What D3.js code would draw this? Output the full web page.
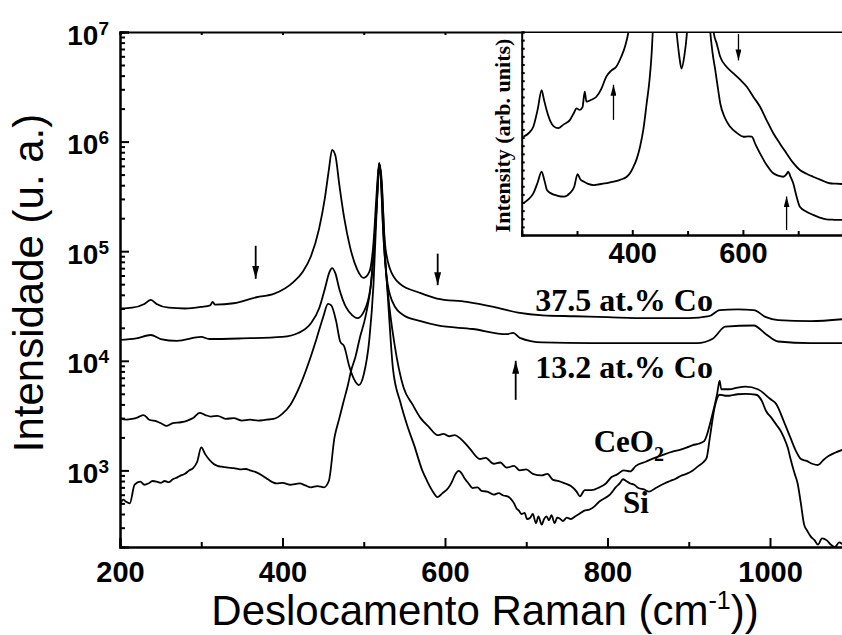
<!DOCTYPE html>
<html>
<head>
<meta charset="utf-8">
<script src="https://cdn.jsdelivr.net/npm/d3@7"></script>
<style>
  body { margin: 0; background: #fff; }
  .curve { fill: none; stroke: #000; stroke-width: 1.8; stroke-linejoin: round; }
  .axis path, .axis line { stroke: #000; stroke-width: 2; }
  .tick text { font-family: "Liberation Sans", Arial, sans-serif; font-weight: bold; fill: #000; }
  .lbl { font-family: "Liberation Serif", "Times New Roman", serif; font-weight: bold; fill: #000; }
</style>
</head>
<body>
<div id="chart"></div>
<script>

// spectra: [Raman shift (cm-1), intensity (a.u.)]
var co375 = [[200,3.0e4],[215,3.05e4],[230,3.3e4],[238,3.6e4],[245,3.3e4],[260,3.05e4],[280,3.0e4],[300,3.1e4],
  [311,3.2e4],[314,3.45e4],[317,3.25e4],[340,3.35e4],[368,3.8e4],[390,4.1e4],[413,5.2e4],[425,6.5e4],[435,9.0e4],
  [445,1.6e5],[452,3.0e5],[457,5.5e5],[461,8.4e5],[465,7.5e5],[470,4.0e5],[476,2.0e5],[483,1.1e5],[492,6.8e4],
  [500,5.7e4],[507,6.5e4],[512,1.2e5],[516,3.5e5],[519,6.4e5],[522,4.0e5],[526,1.2e5],[532,7.0e4],[545,5.0e4],
  [568,4.2e4],[590,3.7e4],[627,3.45e4],[660,3.1e4],[690,2.75e4],[720,2.6e4],[760,2.55e4],[800,2.5e4],[850,2.45e4],
  [900,2.45e4],[925,2.55e4],[938,2.9e4],[960,2.95e4],[980,2.9e4],[995,2.5e4],[1010,2.35e4],[1050,2.3e4],[1090,2.4e4]];

var co132 = [[200,1.55e4],[220,1.6e4],[238,1.72e4],[250,1.58e4],[270,1.52e4],[300,1.65e4],[310,1.58e4],[350,1.6e4],
  [400,1.65e4],[420,1.8e4],[435,2.2e4],[445,3.0e4],[452,4.5e4],[458,6.5e4],[461,7.0e4],[465,6.3e4],[470,4.5e4],
  [478,3.1e4],[486,2.6e4],[492,2.45e4],[500,2.8e4],[508,4.5e4],[513,1.2e5],[517,3.5e5],[519,6.3e5],[521,4.5e5],
  [524,1.5e5],[528,6.0e4],[535,3.5e4],[549,2.6e4],[570,2.3e4],[591,2.1e4],[634,1.95e4],[676,1.75e4],[684,1.8e4],
  [692,1.62e4],[720,1.47e4],[780,1.45e4],[850,1.45e4],[910,1.45e4],[930,1.6e4],[945,2.05e4],[980,2.1e4],
  [995,1.75e4],[1010,1.5e4],[1050,1.45e4],[1090,1.45e4]];

var ceo2 = [[200,3.0e3],[208,2.9e3],[215,2.95e3],[222,3.05e3],[229,3.2e3],[236,2.9e3],[245,2.8e3],[252,2.65e3],
  [257,2.55e3],[265,2.7e3],[275,2.75e3],[283,2.85e3],[290,3.0e3],[298,3.35e3],[305,3.2e3],[312,3.1e3],[320,3.15e3],
  [330,2.95e3],[340,3.0e3],[350,2.85e3],[360,2.9e3],[370,2.85e3],[380,2.9e3],[389,2.95e3],[400,3.3e3],[410,4.0e3],
  [421,5.8e3],[432,9.5e3],[442,1.6e4],[450,2.5e4],[456,3.3e4],[460,3.2e4],[466,2.3e4],[471,1.5e4],[476,1.35e4],
  [482,9.0e3],[488,6.8e3],[494,6.0e3],[500,7.5e3],[507,1.6e4],[512,5.0e4],[516,2.5e5],[519,6.2e5],[521,5.0e5],
  [524,1.5e5],[530,4.0e4],[538,1.4e4],[549,5.7e3],[560,4.0e3],[570,3.0e3],[580,2.5e3],[591,2.1e3],[598,2.15e3],
  [605,2.05e3],[612,2.1e3],[619,1.95e3],[630,1.6e3],[643,1.27e3],[650,1.3e3],[660,1.15e3],[668,1.18e3],[676,1.06e3],
  [685,1.1e3],[692,1.0e3],[700,1.02e3],[708,0.93e3],[719,0.9e3],[726,0.93e3],[733,0.82e3],[740,0.8e3],[748,0.76e3],
  [755,0.72e3],[762,0.64e3],[766,0.58e3],[772,0.66e3],[780,0.66e3],[790,0.7e3],[798,0.76e3],[805,0.87e3],
  [812,0.92e3],[820,1.0e3],[828,0.98e3],[835,1.1e3],[847,1.2e3],[858,1.3e3],[870,1.4e3],[880,1.48e3],[890,1.55e3],
  [898,1.62e3],[905,1.7e3],[912,1.75e3],[919,1.85e3],[928,3.0e3],[935,5.0e3],[938,6.6e3],[940,5.5e3],[950,5.5e3],
  [960,5.7e3],[970,5.8e3],[985,5.5e3],[1000,4.5e3],[1008,4.0e3],[1017,2.8e3],[1025,2.0e3],[1032,1.5e3],
  [1038,1.27e3],[1045,1.22e3],[1052,1.15e3],[1059,1.12e3],[1066,1.25e3],[1072,1.35e3],[1080,1.45e3],[1090,1.55e3]];

var si = [[200,480],[204,540],[207,520],[212,500],[218,740],[225,790],[230,740],[235,760],[240,800],[245,790],
  [250,770],[255,800],[260,780],[265,830],[270,860],[275,900],[280,930],[285,1000],[290,1050],[295,1200],[300,1620],
  [305,1400],[310,1250],[315,1150],[320,1100],[325,1080],[333,1060],[340,1050],[348,1020],[355,1030],[360,1000],
  [368,960],[375,900],[383,820],[388,780],[393,760],[400,770],[410,740],[415,750],[421,760],[428,730],[435,700],
  [443,720],[451,700],[457,800],[464,2000],[470,3000],[475,4200],[480,5800],[485,8400],[490,1.1e4],[495,1.6e4],
  [502,2.5e4],[510,6.0e4],[515,2.0e5],[519,6.3e5],[522,4.5e5],[526,1.0e5],[530,3.5e4],[536,8.4e3],[545,4.2e3],
  [554,2.5e3],[562,1.7e3],[572,1.0e3],[578,800],[584,660],[591,570],[597,620],[604,690],[609,800],[612,900],
  [617,990],[620,950],[624,850],[629,760],[634,690],[640,700],[645,650],[652,640],[660,600],[666,620],[672,590],
  [677,580],[681,550],[685,500],[688,450],[691,430],[694,400],[698,410],[701,360],[705,370],[708,400],[712,330],
  [715,380],[719,320],[722,360],[725,380],[728,350],[731,390],[735,330],[738,370],[742,360],[745,345],[750,370],
  [755,360],[760,380],[765,400],[771,427],[778,440],[784,470],[790,520],[797,560],[803,600],[806,640],[810,700],
  [815,760],[819,830],[823,800],[828,760],[833,740],[838,690],[845,670],[851,640],[858,680],[864,720],[870,760],
  [877,800],[884,840],[890,890],[897,930],[905,1000],[912,1100],[918,1190],[922,1300],[926,2000],[932,3800],
  [938,4900],[945,4800],[950,4800],[960,4950],[970,5000],[983,4900],[990,4300],[995,3500],[1002,3000],[1008,2600],
  [1013,2300],[1017,2000],[1022,1600],[1025,1300],[1030,950],[1034,760],[1038,500],[1042,320],[1046,280],
  [1050,250],[1055,230],[1059,210],[1064,240],[1070,230],[1075,210],[1080,200],[1085,220],[1090,210]];

// inset spectra (linear arbitrary units, 0..100 spans the inset height; >100 is off-scale)
var insetTop = [[203,48.4],[212,50],[221,53.3],[229,62],[236,71.4],[240,67],[245,61.6],[252,56],[258,53.5],
  [266,52.6],[276,54.5],[287,56.6],[295,60.5],[299,62.4],[305,61.6],[310,63],[314,70.6],[317,65.7],[325,66.5],
  [335,68.1],[344,72],[353,78],[362,81],[371,82.9],[380,87.8],[387,93],[393,100],[400,115],[430,160],
  [470,130],[480,100],[485,88],[489,82],[494,88],[499,100],[505,130],[540,130],[547,100],[553,94],
  [559,87.8],[570,83],[583,79.6],[595,76.5],[607,73],[619,68],[631,63.2],[643,56.5],[655,50.1],[667,45],
  [679,40.2],[691,35.5],[703,32],[715,30.2],[727,28.7],[742,27],[757,25.5],[768,25.3],[780,25.1]];

var insetBottom = [[203,15.6],[212,17.5],[221,20.5],[229,26],[236,31.2],[241,27],[246,22],[253,20.5],
  [265,19.3],[277,18.9],[287,20.6],[295,23.8],[301,30],[306,27.5],[312,26.3],[320,25.2],[330,24.6],[340,25],
  [350,25.4],[358,25.8],[366,26.3],[378,27.2],[390,28.7],[396,30.5],[402,33.6],[408,37.5],[414,43.5],[420,52],
  [426,64.9],[431,76],[435,89.5],[437,100],[445,130],[535,130],[541,100],[545,90],[550,81.3],[555,72],
  [559,64.9],[567,58],[577,53.3],[589,50.3],[601,48.4],[610,48.6],[616,48.4],[623,44.5],[631,40.2],[643,34.5],
  [655,30.4],[664,29.2],[673,28.7],[679,30],[682,31.2],[686,28.8],[691,25.5],[697,19],[703,13.9],[715,11.5],
  [727,9.9],[739,8.6],[751,7.7],[765,7.5],[780,7.4]];

// arrows: [shift, from, to]
var mainArrows = [[367, 1.12e5, 5.6e4], [591, 9.5e4, 4.9e4], [687, 4.4e3, 1.0e4]];
var insetArrows = [[366, 56.7, 74], [592, 99, 86], [679, 2.5, 19]];

var xMajor = [200, 400, 600, 800, 1000];
var xMinor = [300, 500, 700, 900];
var yMajor = [1e3, 1e4, 1e5, 1e6, 1e7];
var insetXMajor = [400, 600];
var insetXMinor = [300, 500, 700];

var W = 842, H = 635;
var plot = { left: 120, top: 32, bottom: 547 };

var svg = d3.select("#chart").append("svg")
  .attr("width", W).attr("height", H)
  .style("font-family", "Liberation Sans, Arial, sans-serif");

var x = d3.scaleLinear().domain([200, 1090]).range([plot.left, plot.left + 890 * 0.8125]);
var y = d3.scaleLog().domain([200, 1e7]).range([plot.bottom, plot.top]);

var defs = svg.append("defs");
defs.append("clipPath").attr("id", "clipMain").append("rect")
  .attr("x", plot.left).attr("y", plot.top).attr("width", W - plot.left).attr("height", plot.bottom - plot.top);

var head = function (id, w, l) {
  defs.append("marker").attr("id", id)
    .attr("markerUnits", "userSpaceOnUse")
    .attr("viewBox", "0 0 " + l + " " + w)
    .attr("markerWidth", l).attr("markerHeight", w)
    .attr("refX", l).attr("refY", w / 2)
    .attr("orient", "auto")
    .append("path").attr("d", "M0,0L" + l + "," + (w / 2) + "L0," + w + "Z").attr("fill", "#000");
};
head("arrMain", 7, 13);
head("arrInset", 6, 11);

// main curves
var line = d3.line().curve(d3.curveMonotoneX)
  .x(function (d) { return x(d[0]); }).y(function (d) { return y(d[1]); });
var gCurves = svg.append("g").attr("clip-path", "url(#clipMain)");
[co375, co132, ceo2, si].forEach(function (s) {
  gCurves.append("path").datum(s).attr("class", "curve").attr("d", line);
});

// axes (ticks point inward)
var minorY = [];
yMajor.concat([100]).forEach(function (dec) {
  for (var k = 2; k <= 9; k++) { if (dec * k >= 200 && dec * k < 1e7) minorY.push(dec * k); }
});

svg.append("g").attr("class", "axis")
  .attr("transform", "translate(" + plot.left + ",0)")
  .call(d3.axisLeft(y).tickValues(minorY).tickSize(-5).tickFormat(""));

svg.append("g").attr("class", "axis")
  .attr("transform", "translate(" + plot.left + ",0)")
  .call(d3.axisLeft(y).tickValues(yMajor).tickSize(-9).tickPadding(11))
  .selectAll("text")
  .attr("font-size", "28px")
  .attr("dy", "12px")
  .each(function (d) {
    var t = d3.select(this);
    t.text(null);
    t.append("tspan").text("10");
    t.append("tspan").attr("dy", "-10px").attr("font-size", "19px").text(Math.round(Math.log10(d)));
  });

svg.append("g").attr("class", "axis")
  .attr("transform", "translate(0," + plot.bottom + ")")
  .call(d3.axisBottom(x).tickValues(xMinor).tickSize(-5).tickFormat(""));

svg.append("g").attr("class", "axis")
  .attr("transform", "translate(0," + plot.bottom + ")")
  .call(d3.axisBottom(x).tickValues(xMajor).tickSize(-9).tickFormat(d3.format("d")))
  .selectAll("text")
  .attr("font-size", "29px")
  .attr("y", 35).attr("dy", 0);

svg.append("g").attr("class", "axis")
  .attr("transform", "translate(0," + plot.top + ")")
  .call(d3.axisTop(x).tickValues(xMajor.concat(xMinor)).tickSize(-3).tickFormat(""));

// axis titles
svg.append("text")
  .attr("transform", "translate(43," + 283 + ") rotate(-90)")
  .attr("text-anchor", "middle")
  .attr("font-size", "42px")
  .text("Intensidade (u. a.)");

var xt = svg.append("text")
  .attr("x", 485).attr("y", 625)
  .attr("text-anchor", "middle")
  .attr("font-size", "42px");
xt.append("tspan").text("Deslocamento Raman (cm");
xt.append("tspan").attr("dy", "-16px").attr("font-size", "25px").text("-1");
xt.append("tspan").attr("dy", "16px").text("))");

// sample labels
var lbl = function (sx, sy, str, size) {
  return svg.append("text").attr("class", "lbl")
    .attr("x", x(sx)).attr("y", y(sy))
    .attr("font-size", size + "px").text(str);
};
lbl(711, 2.85e4, "37.5 at.% Co", 32);
lbl(711, 6.97e3, "13.2 at.% Co", 32);
var ce = lbl(783, 1.47e3, "CeO", 31);
ce.append("tspan").attr("dy", "9px").attr("font-size", "20px").text("2");
lbl(819, 408, "Si", 31);

// arrows
svg.selectAll(".marr").data(mainArrows).enter().append("line")
  .attr("x1", function (d) { return x(d[0]); }).attr("x2", function (d) { return x(d[0]); })
  .attr("y1", function (d) { return y(d[1]); }).attr("y2", function (d) { return y(d[2]); })
  .attr("stroke", "#000").attr("stroke-width", 1.8)
  .attr("marker-end", "url(#arrMain)");

// ---- inset ----
var inset = { left: 521.7, top: 32, bottom: 235 };
var ix = d3.scaleLinear().domain([200, 780]).range([inset.left, inset.left + 580 * 0.553]);
var iy = d3.scaleLinear().domain([0, 100]).range([inset.bottom, inset.top]);

defs.append("clipPath").attr("id", "clipInset").append("rect")
  .attr("x", inset.left).attr("y", inset.top).attr("width", W - inset.left).attr("height", inset.bottom - inset.top);

svg.append("rect").attr("x", inset.left).attr("y", inset.top + 1)
  .attr("width", W - inset.left).attr("height", inset.bottom - inset.top - 1).attr("fill", "#fff");

var iline = d3.line().curve(d3.curveMonotoneX)
  .x(function (d) { return ix(d[0]); }).y(function (d) { return iy(d[1]); });
var gIn = svg.append("g").attr("clip-path", "url(#clipInset)");
[insetTop, insetBottom].forEach(function (s) {
  gIn.append("path").datum(s).attr("class", "curve").attr("stroke-width", 1.6).attr("d", iline);
});

svg.append("g").attr("class", "axis")
  .attr("transform", "translate(" + inset.left + ",0)")
  .call(d3.axisLeft(iy).tickValues(d3.range(0, 101, 4)).tickSize(-3).tickFormat(""))
  .selectAll("line").attr("stroke-width", 1.5);

svg.append("g").attr("class", "axis")
  .attr("transform", "translate(0," + inset.bottom + ")")
  .call(d3.axisBottom(ix).tickValues(insetXMinor).tickSize(-4).tickFormat(""));

svg.append("g").attr("class", "axis")
  .attr("transform", "translate(0," + inset.bottom + ")")
  .call(d3.axisBottom(ix).tickValues(insetXMajor).tickSize(-5))
  .selectAll("text")
  .attr("font-size", "29px")
  .attr("y", 28).attr("dy", 0);

svg.append("text").attr("class", "lbl")
  .attr("transform", "translate(510," + ((inset.top + inset.bottom) / 2 + 2) + ") rotate(-90)")
  .attr("text-anchor", "middle")
  .attr("font-size", "22px")
  .text("Intensity (arb. units)");

svg.selectAll(".iarr").data(insetArrows).enter().append("line")
  .attr("x1", function (d) { return ix(d[0]); }).attr("x2", function (d) { return ix(d[0]); })
  .attr("y1", function (d) { return iy(d[1]); }).attr("y2", function (d) { return iy(d[2]); })
  .attr("stroke", "#000").attr("stroke-width", 1.3)
  .attr("marker-end", "url(#arrInset)");

</script>
</body>
</html>
